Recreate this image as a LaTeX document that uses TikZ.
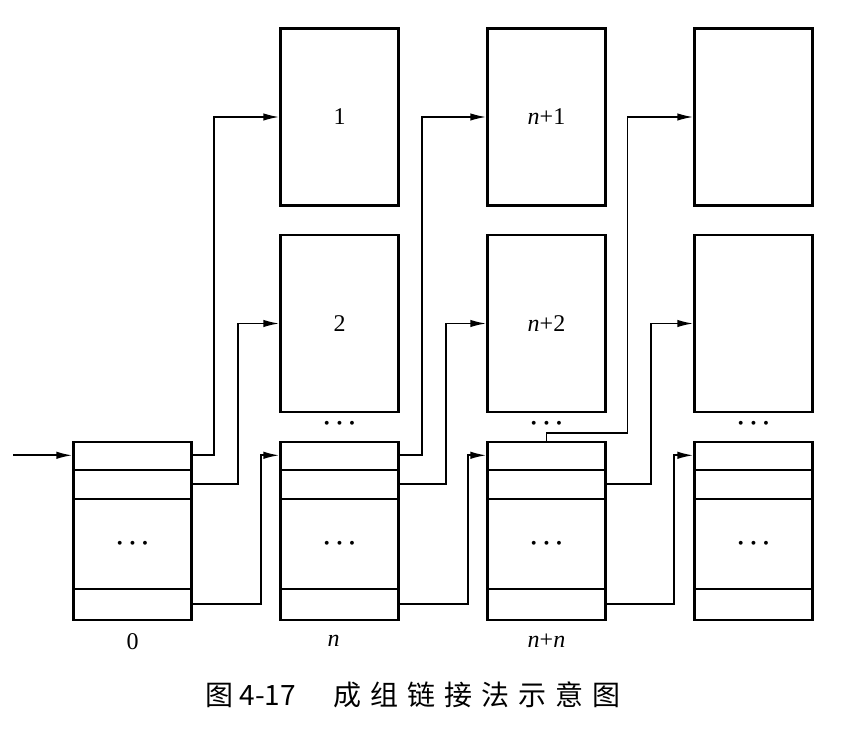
\documentclass[tikz,border=0pt]{standalone}
\usepackage{fontspec}
\setmainfont{Liberation Serif}
\newfontfamily\cjk{Noto Sans CJK SC}
\newfontfamily\cjkwide[LetterSpace=32]{Noto Sans CJK SC}
\usetikzlibrary{positioning,arrows.meta}
\tikzstyle{index} = [draw, rectangle, line width=2.4pt, minimum width=118pt, minimum height=178pt, inner sep=0pt]
\tikzstyle{block} = [draw, rectangle, line width=2.4pt, minimum width=118pt, minimum height=177pt, inner sep=0pt, font=\fontsize{24}{28}\selectfont]
\tikzstyle{line} = [draw, line width=1.7pt, -{Latex[length=16pt,width=7.5pt]}]
\tikzstyle{sep} = [draw, line width=2.2pt]
\tikzstyle{dots} = [inner sep=0pt, font=\fontsize{34}{38}\selectfont\boldmath]
\tikzstyle{numlabel} = [inner sep=0pt, font=\fontsize{24}{28}\selectfont]

\begin{document}
\begin{tikzpicture}[x=1pt, y=1pt, node distance=207pt]
    \useasboundingbox (0,0) rectangle (860,731);

    % Place nodes
    \node [index] at (132.5,200) (idx-0) {};
    \node [index, right of=idx-0] (idx-n) {};
    \node [index, right of=idx-n] (idx-nn) {};
    \node [index, right of=idx-nn] (idx-last) {};
    \node [block, above of=idx-n, node distance=207.5pt] (blk-2) {2};
    \node [block, above of=blk-2, node distance=206.5pt] (blk-1) {1};
    \node [block, above of=idx-nn, node distance=207.5pt] (blk-n2) {\textit{n}+2};
    \node [block, above of=blk-n2, node distance=206.5pt] (blk-n1) {\textit{n}+1};
    \node [block, above of=idx-last, node distance=207.5pt] (blk-x2) {};
    \node [block, above of=blk-x2, node distance=206.5pt] (blk-x1) {};
    \coordinate (start) at ([xshift=-59pt,yshift=-14.5pt]idx-0.north west);

    % Rows of the index blocks
    \foreach \b in {idx-0, idx-n, idx-nn, idx-last} {
        \foreach \d in {29, 58, 148}
            \path [sep] ([yshift=-\d pt]\b.north west) -- ([yshift=-\d pt]\b.north east);
        \node [dots] (mid-\b) at ([yshift=-103pt]\b.north) {$\cdots$};
    }
    \foreach \b in {idx-n, idx-nn, idx-last}
        \node [dots] (gap-\b) at ([yshift=17pt]\b.north) {$\cdots$};

    % Labels
    \node [numlabel] (lab-0) at ([yshift=-20pt]idx-0.south) {0};
    \node [numlabel] (lab-n) at ([xshift=-6pt,yshift=-20pt]idx-n.south) {\textit{n}};
    \node [numlabel] (lab-nn) at ([yshift=-20pt]idx-nn.south) {\textit{n}+\textit{n}};
    \node (caption) at (413,36.5) {\fontsize{28}{32}\cjk 图\hspace{6pt}4-17\hspace{38pt}{\cjkwide 成组链接法示意图}};

    % Draw edges
    \path [line] (start) -- ([yshift=-14.5pt]idx-0.north west);
    \path [line] ([yshift=-14.5pt]idx-0.north east) -- ++(21,0) |- (blk-1.west);
    \path [line] ([yshift=-43.5pt]idx-0.north east) -- ++(45,0) |- (blk-2.west);
    \path [line] ([yshift=-163pt]idx-0.north east) -- ++(68,0) |- ([yshift=-14.5pt]idx-n.north west);
    \path [line] ([yshift=-14.5pt]idx-n.north east) -- ++(22,0) |- (blk-n1.west);
    \path [line] ([yshift=-43.5pt]idx-n.north east) -- ++(46,0) |- (blk-n2.west);
    \path [line] ([yshift=-163pt]idx-n.north east) -- ++(68,0) |- ([yshift=-14.5pt]idx-nn.north west);
    \path [line] (idx-nn.north) -- ++(0,8) -- ++(81,0) |- (blk-x1.west);
    \path [line] ([yshift=-43.5pt]idx-nn.north east) -- ++(44,0) |- (blk-x2.west);
    \path [line] ([yshift=-163pt]idx-nn.north east) -- ++(67,0) |- ([yshift=-14.5pt]idx-last.north west);
\end{tikzpicture}
\end{document}
